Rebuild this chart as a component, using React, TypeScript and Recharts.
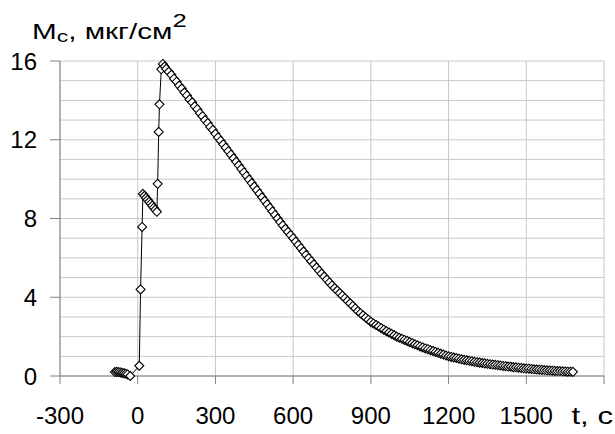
import { LineChart, Line, XAxis, YAxis, CartesianGrid } from 'recharts'

// pre-injection baseline
const baselineT = [-88, -81, -74, -67, -60, -53, -46, -39, -29]
const baselineM = [0.2, 0.21, 0.2, 0.18, 0.16, 0.14, 0.11, 0.08, 0.0]

// injection / rise
const injectT = [6, 11, 17, 20, 26, 32, 38, 44, 50, 56, 62, 68, 74, 77, 81, 84, 91, 97]
const injectM = [0.52, 4.4, 7.57, 9.25, 9.15, 9.05, 8.95, 8.85, 8.75, 8.65, 8.55, 8.45, 8.34, 9.76, 12.4, 13.8, 15.58, 15.85]

// decay after the peak
const decayT = [
  104, 110, 120, 130, 140, 150, 160, 170, 180, 190, 200, 210, 220, 230, 240, 250, 260, 270, 280, 290,
  300, 310, 320, 330, 340, 350, 360, 370, 380, 390, 400, 410, 420, 430, 440, 450, 460, 470, 480, 490,
  500, 510, 520, 530, 540, 550, 560, 570, 580, 590, 600, 610, 620, 630, 640, 650, 660, 670, 680, 690,
  700, 710, 720, 730, 740, 750, 760, 770, 780, 790, 800, 810, 820, 830, 840, 850, 860, 870, 880, 890,
  900, 910, 920, 930, 940, 950, 960, 970, 980, 990, 1000, 1010, 1020, 1030, 1040, 1050, 1060, 1070, 1080, 1090,
  1100, 1110, 1120, 1130, 1140, 1150, 1160, 1170, 1180, 1190, 1200, 1210, 1220, 1230, 1240, 1250, 1260, 1270, 1280, 1290,
  1300, 1310, 1320, 1330, 1340, 1350, 1360, 1370, 1380, 1390, 1400, 1410, 1420, 1430, 1440, 1450, 1460, 1470, 1480, 1490,
  1500, 1510, 1520, 1530, 1540, 1550, 1560, 1570, 1580, 1590, 1600, 1610, 1620, 1630, 1640, 1650, 1660, 1670, 1680,
]
const decayM = [
  15.72, 15.6, 15.45, 15.3, 15.1, 14.95, 14.75, 14.6, 14.4, 14.25, 14.05, 13.9, 13.7, 13.55, 13.35, 13.2, 13.0, 12.85, 12.65, 12.5,
  12.3, 12.12, 11.95, 11.77, 11.6, 11.42, 11.24, 11.06, 10.88, 10.7, 10.52, 10.34, 10.16, 9.98, 9.8, 9.62, 9.44, 9.26, 9.08, 8.9,
  8.72, 8.54, 8.36, 8.18, 8.0, 7.82, 7.65, 7.48, 7.32, 7.16, 7.0, 6.83, 6.66, 6.49, 6.32, 6.15, 5.99, 5.83, 5.67, 5.51,
  5.35, 5.2, 5.05, 4.9, 4.75, 4.6, 4.47, 4.34, 4.21, 4.08, 3.95, 3.82, 3.69, 3.56, 3.43, 3.3, 3.19, 3.08, 2.97, 2.86,
  2.75, 2.67, 2.59, 2.51, 2.43, 2.35, 2.28, 2.21, 2.14, 2.07, 2.0, 1.94, 1.89, 1.83, 1.78, 1.72, 1.67, 1.61, 1.56, 1.5,
  1.45, 1.4, 1.36, 1.31, 1.27, 1.22, 1.18, 1.13, 1.09, 1.04, 1.0, 0.97, 0.94, 0.91, 0.88, 0.85, 0.82, 0.8, 0.77, 0.75,
  0.72, 0.7, 0.68, 0.66, 0.64, 0.62, 0.6, 0.58, 0.57, 0.55, 0.53, 0.51, 0.5, 0.48, 0.47, 0.45, 0.44, 0.42, 0.41, 0.39,
  0.38, 0.37, 0.36, 0.34, 0.33, 0.32, 0.31, 0.3, 0.29, 0.28, 0.27, 0.26, 0.25, 0.25, 0.24, 0.23, 0.22, 0.22, 0.21,
]

const xTicks = [-300, 0, 300, 600, 900, 1200, 1500, 1800]
const yTicks = [0, 1, 2, 3, 4, 5, 6, 7, 8, 9, 10, 11, 12, 13, 14, 15, 16]
const yLabelEvery = 4

const FONT = '"Liberation Sans", Arial, sans-serif'
const AXIS = '#808080'
const GRID = '#c8c8c8'
const LABEL_SIZE = 24

const data = [
  ...baselineT.map((t, i) => ({ t, m: baselineM[i] })),
  ...injectT.map((t, i) => ({ t, m: injectM[i] })),
  ...decayT.map((t, i) => ({ t, m: decayM[i] })),
]

const Diamond = (props: any) => {
  const { cx, cy, index } = props
  if (cx == null || cy == null) return <g key={`d-${index}`} />
  const r = 4.5
  return (
    <path
      key={`d-${index}`}
      d={`M${cx},${cy - r}L${cx + r},${cy}L${cx},${cy + r}L${cx - r},${cy}Z`}
      fill="#fff"
      stroke="#000"
      strokeWidth={1.1}
    />
  )
}

const YTick = (props: any) => {
  const { x, y, payload } = props
  if (payload.value % yLabelEvery !== 0) return <g />
  return (
    <g>
      <line x1={x + 13} x2={x + 23} y1={y} y2={y} stroke={AXIS} />
      <text x={x} y={y + 8.5} textAnchor="end" fontFamily={FONT} fontSize={LABEL_SIZE} fill="#000">
        {payload.value}
      </text>
    </g>
  )
}

const XTick = (props: any) => {
  const { x, y, payload } = props
  if (payload.value === 1800) {
    // axis name sits where the last tick label would be
    return (
      <text
        transform={`translate(${x + 9},${y + 16}) scale(1.3,1)`}
        textAnchor="end"
        fontFamily={FONT}
        fontSize={LABEL_SIZE}
        fill="#000"
      >
        t, c
      </text>
    )
  }
  return (
    <text x={x} y={y + 16} textAnchor="middle" fontFamily={FONT} fontSize={LABEL_SIZE} fill="#000">
      {payload.value}
    </text>
  )
}

export default function App() {
  return (
    <div style={{ position: 'absolute', left: 0, top: 0, width: 615, height: 434, background: '#fff' }}>
      <LineChart width={615} height={434} data={data} margin={{ top: 61, right: 11, left: 0, bottom: 0 }}>
        <CartesianGrid stroke={GRID} strokeWidth={1} />
        <XAxis
          type="number"
          dataKey="t"
          domain={[-300, 1800]}
          ticks={xTicks}
          interval={0}
          height={58}
          stroke={AXIS}
          tickSize={8}
          tickMargin={24}
          tick={<XTick />}
        />
        <YAxis
          type="number"
          domain={[0, 16]}
          ticks={yTicks}
          interval={0}
          width={60}
          stroke={AXIS}
          tickLine={false}
          tickSize={10}
          tickMargin={13}
          tick={<YTick />}
        />
        <Line
          type="linear"
          dataKey="m"
          stroke="#000"
          strokeWidth={1}
          dot={Diamond}
          activeDot={false}
          isAnimationActive={false}
        />
        <text transform="translate(32,39) scale(1.35,1)" fontFamily={FONT} fontSize={22} fill="#000">
          M
          <tspan fontSize={17} dy={2.7}>c</tspan>
          <tspan fontSize={22} dy={-2.7}>, мкг/см</tspan>
          <tspan fontSize={19} dy={-12}>2</tspan>
        </text>
      </LineChart>
    </div>
  )
}
